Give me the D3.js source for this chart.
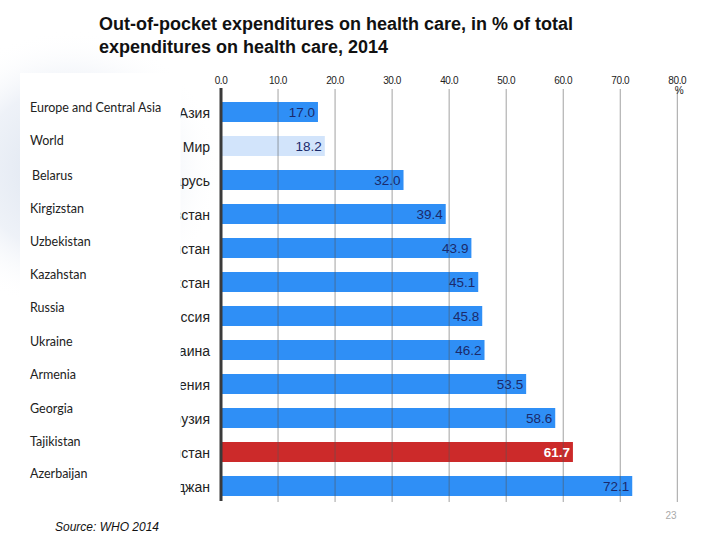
<!DOCTYPE html>
<html><head><meta charset="utf-8">
<script src="https://cdn.jsdelivr.net/npm/d3@7"></script>
<style>body{margin:0;background:#fff}svg{display:block}</style>
</head><body>
<script>
const categoriesEn = ["Europe and Central Asia","World","Belarus","Kirgizstan","Uzbekistan","Kazahstan","Russia","Ukraine","Armenia","Georgia","Tajikistan","Azerbaijan"];
const categoriesRu = ["Европа и Центральная Азия","Мир","Беларусь","Кыргызстан","Узбекистан","Казахстан","Россия","Украина","Армения","Грузия","Таджикистан","Азербайджан"];
const values = [17.0,18.2,32.0,39.4,43.9,45.1,45.8,46.2,53.5,58.6,61.7,72.1];
const tickValues = [0,10,20,30,40,50,60,70,80];
const titleLines = ["Out-of-pocket expenditures on health care, in % of total","expenditures on health care, 2014"];
const sourceText = "Source: WHO 2014";
const pageNumber = "23";

const W=720,H=540;
const svg=d3.select("body").append("svg").attr("width",W).attr("height",H);
const defs=svg.append("defs");
const rg=defs.append("radialGradient").attr("id","blob").attr("cx","50%").attr("cy","50%").attr("r","50%");
rg.append("stop").attr("offset","0%").attr("stop-color","#d5deec").attr("stop-opacity",0.9);
rg.append("stop").attr("offset","60%").attr("stop-color","#e3e9f3").attr("stop-opacity",0.6);
rg.append("stop").attr("offset","100%").attr("stop-color","#ffffff").attr("stop-opacity",0);
svg.append("ellipse").attr("cx",70).attr("cy",170).attr("rx",150).attr("ry",140).attr("fill","url(#blob)");
defs.append("clipPath").attr("id","ruclip").append("rect").attr("x",180.5).attr("y",60).attr("width",50).attr("height",460);

// title
svg.append("g").selectAll("text").data(titleLines).join("text")
  .attr("x",99).attr("y",(d,i)=>30+i*23)
  .attr("font-family","Liberation Sans, Arial, sans-serif").attr("font-weight","bold")
  .attr("font-size",18).attr("fill","#111").text(d=>d);

const x=d3.scaleLinear().domain([0,80]).range([221,677.3]);
const y=d3.scaleBand().domain(categoriesRu).range([95,503]).paddingInner(0.412).paddingOuter(0.206);

// Russian labels (mostly hidden by overlay)
svg.append("g").attr("clip-path","url(#ruclip)").selectAll("text").data(categoriesRu).join("text")
  .attr("x",210).attr("y",d=>y(d)+y.bandwidth()/2+6)
  .attr("text-anchor","end").attr("font-family","Liberation Sans, Arial, sans-serif")
  .attr("font-size",14).attr("fill","#222").text(d=>d);

// bars
const color=(i)=> i===1?"#d2e4fb":(i===10?"#cc2a2a":"#2f8ff6");
svg.append("g").selectAll("rect").data(values).join("rect")
  .attr("x",x(0)).attr("y",(d,i)=>y(categoriesRu[i]))
  .attr("width",d=>x(d)-x(0)).attr("height",y.bandwidth())
  .attr("fill",(d,i)=>color(i));

// grid lines over bars
svg.append("g").selectAll("line").data(tickValues.slice(1)).join("line")
  .attr("x1",d=>x(d)).attr("x2",d=>x(d)).attr("y1",89).attr("y2",502)
  .attr("stroke","#555").attr("stroke-opacity",0.55).attr("stroke-width",1);
// zero axis
svg.append("line").attr("x1",x(0)).attr("x2",x(0)).attr("y1",88).attr("y2",501)
  .attr("stroke","#3a3a3a").attr("stroke-width",3);

// tick labels
svg.append("g").selectAll("text").data(tickValues).join("text")
  .attr("x",d=>x(d)).attr("y",84).attr("text-anchor","middle")
  .attr("font-family","Liberation Sans, Arial, sans-serif").attr("font-size",10)
  .attr("letter-spacing",-0.4).attr("fill","#222").text(d=>d3.format(".1f")(d));
svg.append("text").attr("x",x(80)+2).attr("y",94).attr("text-anchor","middle")
  .attr("font-family","Liberation Sans, Arial, sans-serif").attr("font-size",10).attr("fill","#222").text("%");

// value labels
svg.append("g").selectAll("text").data(values).join("text")
  .attr("x",d=>x(d)-3).attr("y",(d,i)=>y(categoriesRu[i])+y.bandwidth()/2+5)
  .attr("text-anchor","end").attr("font-family","Liberation Sans, Arial, sans-serif")
  .attr("font-size",13.5).attr("font-weight",(d,i)=>i===10?"bold":"normal")
  .attr("fill",(d,i)=>i===10?"#fff":"#1b2a6b").text(d=>d3.format(".1f")(d));

// white overlay panel with English labels
svg.append("rect").attr("x",20).attr("y",73).attr("width",160.5).attr("height",430).attr("fill","#fff");
const enY=[108,141,176,209,242,275,308,342,375,409,442,474];
svg.append("g").selectAll("text").data(categoriesEn).join("text")
  .attr("x",(d,i)=>i===2?32:30).attr("y",(d,i)=>enY[i]+4)
  .attr("font-family","Lato, Open Sans, sans-serif").attr("font-size",12.5).attr("fill","#222").text(d=>d);

// source + page number
svg.append("text").attr("x",55).attr("y",531).attr("font-family","Liberation Sans, Arial, sans-serif")
  .attr("font-style","italic").attr("font-size",12).attr("fill","#111").text(sourceText);
svg.append("text").attr("x",671).attr("y",519).attr("text-anchor","middle").attr("font-family","Liberation Sans, Arial, sans-serif")
  .attr("font-size",10).attr("fill","#aaa").text(pageNumber);
</script>
</body></html>
